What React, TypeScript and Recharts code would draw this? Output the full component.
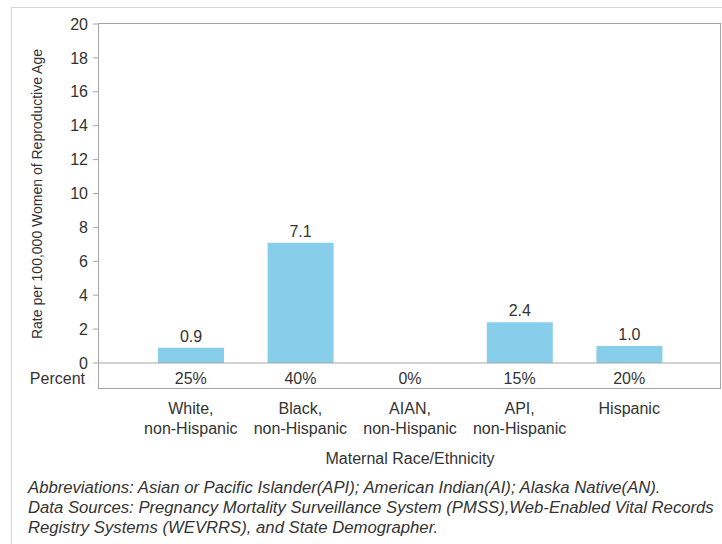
import React from "react";
import { BarChart, Bar, XAxis, YAxis, LabelList } from "recharts";

const categories = [
  "White,\nnon-Hispanic",
  "Black,\nnon-Hispanic",
  "AIAN,\nnon-Hispanic",
  "API,\nnon-Hispanic",
  "Hispanic",
];
const rates = [0.9, 7.1, 0, 2.4, 1.0];
const percents = ["25%", "40%", "0%", "15%", "20%"];
const yTicks = [0, 2, 4, 6, 8, 10, 12, 14, 16, 18, 20];

const data = categories.map((name, i) => ({
  name,
  rate: rates[i],
  percent: percents[i],
}));

const FONT = "'Liberation Sans', Arial, sans-serif";
const TEXT = "#333333";
const FS = 16;

const CategoryTick = (props: any) => {
  const { x, y, payload, index } = props;
  const lines = String(payload.value).split("\n");
  return (
    <g>
      {index === 0 && (
        <text x={85} y={y + 21} textAnchor="end" fontSize={FS} fill={TEXT}>
          Percent
        </text>
      )}
      <text x={x} y={y + 21} textAnchor="middle" fontSize={FS} fill={TEXT}>
        {percents[index]}
      </text>
      {lines.map((line: string, i: number) => (
        <text
          key={i}
          x={x}
          y={y + 51 + i * 20}
          textAnchor="middle"
          fontSize={FS}
          fill={TEXT}
        >
          {line}
        </text>
      ))}
    </g>
  );
};

const App = () => {
  return (
    <div
      style={{
        position: "absolute",
        left: 0,
        top: 0,
        width: 722,
        height: 544,
        overflow: "hidden",
        background: "#fff",
        fontFamily: FONT,
      }}
    >
      <div
        style={{
          position: "absolute",
          left: 11,
          top: 7,
          width: 800,
          height: 600,
          border: "1px solid #d4d4d4",
        }}
      />
      <div style={{ position: "absolute", left: 0, top: 0 }}>
        <BarChart
          width={722}
          height={470}
          data={data}
          margin={{ top: 24, right: 1, left: 39, bottom: 0 }}
          style={{ fontFamily: FONT }}
        >
          <XAxis
            dataKey="name"
            height={107}
            padding={{ left: 37, right: 37 }}
            tickLine={false}
            tickSize={0}
            tickMargin={0}
            interval={0}
            axisLine={{ stroke: "#a6a6a6" }}
            tick={<CategoryTick />}
            label={{
              value: "Maternal Race/Ethnicity",
              position: "insideBottom",
              offset: 6,
              fontSize: FS,
              fill: TEXT,
            }}
          />
          <YAxis
            width={60}
            domain={[0, 20]}
            ticks={yTicks}
            interval={0}
            axisLine={false}
            tickLine={{ stroke: "#a6a6a6" }}
            tickSize={6}
            tickMargin={5}
            tick={{ fontSize: FS, fill: TEXT }}
          />
          <Bar
            dataKey="rate"
            fill="#87CEEB"
            barSize={66}
            isAnimationActive={false}
          >
            <LabelList
              dataKey="rate"
              position="top"
              offset={6}
              fontSize={FS}
              fill={TEXT}
              formatter={(v: any) => (Number(v) > 0 ? Number(v).toFixed(1) : "")}
            />
          </Bar>
        </BarChart>
      </div>
      <div
        style={{
          position: "absolute",
          left: 98,
          top: 23,
          width: 623,
          height: 366,
          boxSizing: "border-box",
          border: "1px solid #a6a6a6",
          pointerEvents: "none",
        }}
      />
      <div
        style={{
          position: "absolute",
          left: 37,
          top: 193.5,
          transform: "translate(-50%, -50%) rotate(-90deg)",
          whiteSpace: "nowrap",
          fontSize: 14,
          color: TEXT,
        }}
      >
        Rate per 100,000 Women of Reproductive Age
      </div>
      <div
        style={{
          position: "absolute",
          left: 28,
          top: 478,
          fontSize: 16.7,
          lineHeight: "20px",
          fontStyle: "italic",
          color: TEXT,
          whiteSpace: "nowrap",
        }}
      >
        Abbreviations: Asian or Pacific Islander(API); American Indian(AI); Alaska Native(AN).
        <br />
        Data Sources: Pregnancy Mortality Surveillance System (PMSS),Web-Enabled Vital Records
        <br />
        Registry Systems (WEVRRS), and State Demographer.
      </div>
    </div>
  );
};

export default App;
